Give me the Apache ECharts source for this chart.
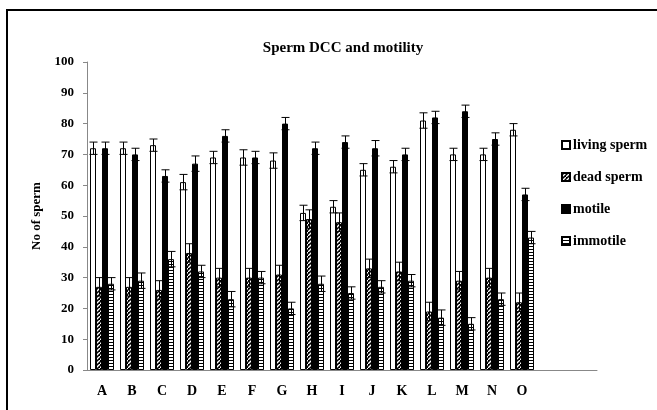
<!DOCTYPE html>
<html>
<head>
<meta charset="utf-8">
<script src="https://cdn.jsdelivr.net/npm/echarts@6/dist/echarts.min.js"></script>
<style>
  html, body { margin: 0; padding: 0; background: #fff; }
  #chart { width: 657px; height: 410px; }
</style>
</head>
<body>
<div id="chart"></div>
<script>
// groups A..O, two empty slots at the end keep the axis as long as in the original
var groups = ['A','B','C','D','E','F','G','H','I','J','K','L','M','N','O','',''];

var living   = [72, 72, 73, 61, 69, 69, 68, 51, 53, 65, 66, 81, 70, 70, 78];
var dead     = [27, 27, 26, 38, 30, 30, 31, 49, 48, 33, 32, 19, 29, 30, 22];
var motile   = [72, 70, 63, 67, 76, 69, 80, 72, 74, 72, 70, 82, 84, 75, 57];
var immotile = [28, 29, 36, 32, 23, 30, 20, 28, 25, 27, 29, 17, 15, 23, 43];

// error bar half heights
var livingErr   = [2, 2, 2, 2.5, 2, 2.5, 2.5, 2.5, 2, 2, 2, 2.5, 2, 2, 2];
var deadErr     = [3, 3, 3, 3, 3, 3, 3, 3, 3, 3, 3, 3, 3, 3, 3];
var motileErr   = [2, 2, 2, 2.5, 2, 2, 2, 2, 2, 2.5, 2, 2, 2, 2, 2];
var immotileErr = [2, 2.5, 2.5, 2, 2.5, 2, 2, 2.5, 2, 2, 2, 2.5, 2, 2, 2];

var yTicks = [0, 100, 10]; // min, max, step

var serif = '"Liberation Serif", "DejaVu Serif", serif';

// hatch fills
function makeTile(w, h, draw) {
  var c = document.createElement('canvas');
  c.width = w; c.height = h;
  draw(c.getContext('2d'));
  return c;
}
var diagTile = makeTile(4, 4, function (ctx) {
  ctx.fillStyle = '#000';
  ctx.fillRect(0, 0, 4, 4);
  ctx.strokeStyle = '#fff';
  ctx.lineWidth = 1.3;
  ctx.beginPath();
  ctx.moveTo(-1, 5); ctx.lineTo(5, -1);
  ctx.stroke();
});
var stripeTile = makeTile(4, 3, function (ctx) {
  ctx.fillStyle = '#fff';
  ctx.fillRect(0, 0, 4, 3);
  ctx.fillStyle = '#000';
  ctx.fillRect(0, 0, 4, 1);
});

var barW = 6;

function errSeries(vals, errs, offset) {
  var d = vals.map(function (v, i) { return [i, v, errs[i]]; });
  return {
    type: 'custom',
    data: d,
    z: 10,
    silent: true,
    encode: { x: 0, y: 1 },
    renderItem: function (params, api) {
      var i = api.value(0), v = api.value(1), e = api.value(2);
      var hi = api.coord([i, v + e]);
      var lo = api.coord([i, v - e]);
      var x = Math.round(hi[0] + offset) + 0.5;
      var st = { stroke: '#000', lineWidth: 1 };
      return {
        type: 'group',
        children: [
          { type: 'line', shape: { x1: x, y1: hi[1], x2: x, y2: lo[1] }, style: st },
          { type: 'line', shape: { x1: x - 4, y1: hi[1], x2: x + 4, y2: hi[1] }, style: st },
          { type: 'line', shape: { x1: x - 4, y1: lo[1], x2: x + 4, y2: lo[1] }, style: st }
        ]
      };
    }
  };
}

var chart = echarts.init(document.getElementById('chart'), null, { renderer: 'canvas' });

chart.setOption({
  animation: false,
  backgroundColor: '#fff',
  title: {
    text: 'Sperm DCC and motility',
    left: 338,
    textAlign: 'center',
    top: 36,
    textStyle: { fontFamily: serif, fontWeight: 'bold', fontSize: 15, color: '#000' }
  },
  graphic: [{
    type: 'rect',
    shape: { x: 7, y: 10, width: 700, height: 500 },
    style: { fill: 'none', stroke: '#000', lineWidth: 2 }
  }],
  legend: {
    data: ['living sperm', 'dead sperm', 'motile', 'immotile'],
    orient: 'vertical',
    left: 556,
    top: 133,
    itemWidth: 8,
    itemHeight: 8,
    itemGap: 18,
    icon: 'rect',
    textStyle: { fontFamily: serif, fontWeight: 'bold', fontSize: 14, color: '#000', padding: [0, 0, 0, -2] }
  },
  grid: { left: 87, right: 60, top: 62, bottom: 40, containLabel: false },
  xAxis: {
    type: 'category',
    data: groups,
    axisLine: { lineStyle: { color: '#888', width: 1 } },
    axisTick: { show: false },
    axisLabel: { margin: 14, fontFamily: serif, fontWeight: 'bold', fontSize: 14, color: '#000' }
  },
  yAxis: {
    type: 'value',
    min: yTicks[0], max: yTicks[1], interval: yTicks[2],
    name: 'No of sperm',
    nameLocation: 'middle',
    nameGap: 37,
    nameTextStyle: { fontFamily: serif, fontWeight: 'bold', fontSize: 13, color: '#000' },
    axisLine: { show: true, lineStyle: { color: '#888', width: 1 } },
    axisTick: { show: true, length: 4, lineStyle: { color: '#888' } },
    splitLine: { show: false },
    axisLabel: { margin: 13, fontFamily: serif, fontWeight: 'bold', fontSize: 13, color: '#000' }
  },
  series: [
    { name: 'living sperm', type: 'bar', data: living, barWidth: barW, barGap: '0%',
      itemStyle: { color: '#fff', borderColor: '#000', borderWidth: 1 } },
    { name: 'dead sperm', type: 'bar', data: dead, barWidth: barW, barGap: '0%',
      itemStyle: { color: { image: diagTile, repeat: 'repeat' }, borderColor: '#000', borderWidth: 1 } },
    { name: 'motile', type: 'bar', data: motile, barWidth: barW, barGap: '0%',
      itemStyle: { color: '#000', borderColor: '#000', borderWidth: 1 } },
    { name: 'immotile', type: 'bar', data: immotile, barWidth: barW, barGap: '0%',
      itemStyle: { color: { image: stripeTile, repeat: 'repeat' }, borderColor: '#000', borderWidth: 1 } },
    errSeries(living, livingErr, -1.5 * barW),
    errSeries(dead, deadErr, -0.5 * barW),
    errSeries(motile, motileErr, 0.5 * barW),
    errSeries(immotile, immotileErr, 1.5 * barW)
  ]
});
</script>
</body>
</html>
